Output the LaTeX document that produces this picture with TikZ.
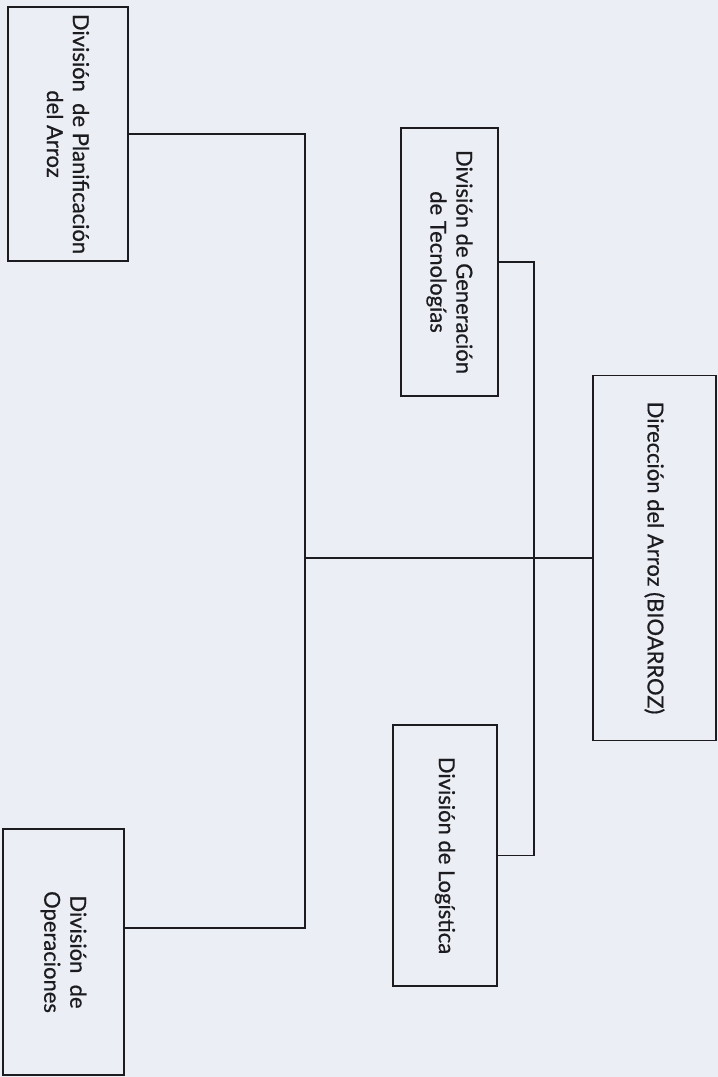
\documentclass[tikz,border=0pt]{standalone}
\usepackage{fontspec}
\setmainfont{Lato}
\newfontfamily\boxfont[FakeBold=0.6]{Lato}
\definecolor{bgcol}{RGB}{236,238,245}
\definecolor{inkcol}{RGB}{28,28,32}
\begin{document}
\begin{tikzpicture}[x=1pt,y=-1pt,
  box/.style={draw=inkcol, text=inkcol, line width=1.6pt, rotate=-90, align=center,
    font=\boxfont\fontsize{22}{26}\selectfont, inner sep=0pt},
  link/.style={draw=inkcol, line width=1.6pt}]
\fill[bgcol] (0,0) rectangle (718,1077);
\useasboundingbox (0,0) rectangle (718,1077);
\node[box, minimum width=254pt, minimum height=120pt] (plan) at (68,134) {División\ \ de Planificación\\del Arroz};
\node[box, minimum width=268pt, minimum height=97pt] (gen) at (449.5,262) {División de Generación\\de Tecnologías};
\node[box, minimum width=365pt, minimum height=123pt] (dir) at (654.5,558) {Dirección del Arroz (BIOARROZ)};
\node[box, minimum width=261pt, minimum height=104pt] (log) at (445,855.5) {División de Logística};
\node[box, minimum width=246pt, minimum height=121pt] (ops) at (63.5,952) {División\ \ de\\Operaciones};
\coordinate (ttop) at (305,134);
\coordinate (tbot) at (305,928);
\coordinate (rx) at (534,0);
\draw[link] (plan.north) -- (ttop) -- (tbot) -- (ops.north |- tbot);
\draw[link] (dir.south -| ttop) -- (dir.south);
\draw[link] (gen.north) -- (gen.north -| rx) -- (log.north -| rx) -- (log.north);
\end{tikzpicture}
\end{document}
